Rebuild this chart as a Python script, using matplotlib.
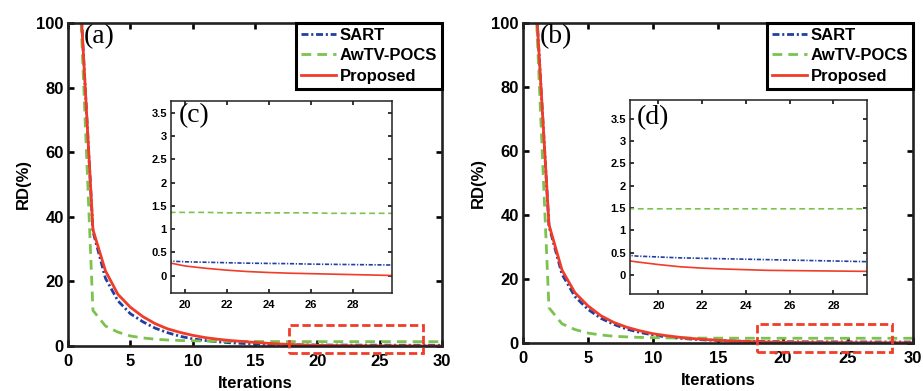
import numpy as np
import matplotlib.pyplot as plt
from matplotlib.patches import Rectangle

# iterations and RD(%) values
iters = np.arange(1, 31)

sart_a = [107, 35.5, 21, 14, 10, 7.5, 5.5, 4.1, 3.0, 2.2, 1.7, 1.3, 1.0, 0.8, 0.62,
          0.5, 0.42, 0.36, 0.32, 0.30, 0.29, 0.28, 0.27, 0.265, 0.26, 0.25, 0.245,
          0.24, 0.235, 0.23]
awtv_a = [105, 11, 6.2, 4.3, 3.1, 2.5, 2.1, 1.85, 1.7, 1.6, 1.52, 1.47, 1.43, 1.41,
          1.39, 1.38, 1.37, 1.37, 1.36, 1.36, 1.36, 1.35, 1.35, 1.35, 1.35, 1.35,
          1.34, 1.34, 1.34, 1.34]
prop_a = [107, 36, 23.3, 16, 12, 9.1, 6.9, 5.3, 4.2, 3.3, 2.6, 2.1, 1.7, 1.4, 1.1,
          0.85, 0.62, 0.45, 0.3, 0.21, 0.16, 0.12, 0.09, 0.07, 0.055, 0.045, 0.035,
          0.025, 0.015, 0.005]

sart_b = [107, 36.5, 21.5, 14.5, 10.5, 7.7, 5.8, 4.3, 3.3, 2.5, 1.9, 1.5, 1.2, 0.95,
          0.8, 0.65, 0.55, 0.47, 0.42, 0.4, 0.38, 0.37, 0.36, 0.35, 0.34, 0.33,
          0.32, 0.31, 0.30, 0.29]
awtv_b = [105, 11, 6, 4.2, 3.1, 2.5, 2.1, 1.9, 1.75, 1.65, 1.6, 1.56, 1.54, 1.52,
          1.51, 1.5, 1.49, 1.49, 1.48, 1.48, 1.48, 1.48, 1.48, 1.48, 1.48, 1.48,
          1.48, 1.48, 1.48, 1.48]
prop_b = [107, 37, 22.8, 15.7, 11.6, 8.5, 6.4, 4.9, 3.8, 2.9, 2.3, 1.8, 1.4, 1.1,
          0.85, 0.65, 0.5, 0.36, 0.29, 0.23, 0.18, 0.15, 0.13, 0.115, 0.1, 0.095,
          0.09, 0.085, 0.08, 0.075]

labels = ["SART", "AwTV-POCS", "Proposed"]
main_xticks = [0, 5, 10, 15, 20, 25, 30]
main_yticks = [0, 20, 40, 60, 80, 100]
inset_xticks = [20, 22, 24, 26, 28]
inset_yticks = [0, 0.5, 1, 1.5, 2, 2.5, 3, 3.5]

RED = "#f03c28"
BLUE = "#1f3fa3"
GREEN = "#7cc24e"
SANS = "Liberation Sans"
SERIF = "Liberation Serif"


def draw_lines(ax, sart, awtv, prop, lw):
    ax.plot(iters, sart, color=BLUE, lw=lw, dashes=(2.5, 1, 0.75, 1), label=labels[0])
    ax.plot(iters, awtv, color=GREEN, lw=lw, dashes=(3.5, 2.2), label=labels[1])
    ax.plot(iters, prop, color=RED, lw=lw, label=labels[2])


def style(ax, fs, spine_w, tick_len, xpad):
    for s in ax.spines.values():
        s.set_linewidth(spine_w)
        s.set_color("#222222")
    ax.tick_params(direction="in", top=True, right=True, length=tick_len,
                   width=spine_w, labelsize=fs, pad=3)
    ax.tick_params(axis="x", pad=xpad)
    for t in ax.get_xticklabels() + ax.get_yticklabels():
        t.set_fontweight("bold")
        t.set_fontfamily(SANS)


fig = plt.figure(figsize=(9.23, 3.91), dpi=100)

panels = [
    dict(main=[0.0737, 0.1151, 0.4052, 0.8261], inset=[0.1853, 0.2506, 0.2394, 0.4911],
         data=(sart_a, awtv_a, prop_a), ixlim=(19.33, 29.86), iylim=(-0.37, 3.75),
         rect=(17.7, -2.1, 10.8, 8.6), tag="(a)", itag="(c)", itag_x=0.036, itag_y=0.925),
    dict(main=[0.5666, 0.1228, 0.4226, 0.8184], inset=[0.6826, 0.2481, 0.2568, 0.4962],
         data=(sart_b, awtv_b, prop_b), ixlim=(18.7, 29.54), iylim=(-0.43, 3.92),
         rect=(17.97, -2.7, 10.43, 8.6), tag="(b)", itag="(d)", itag_x=0.03, itag_y=0.91),
]

for p in panels:
    ax = fig.add_axes(p["main"])
    draw_lines(ax, *p["data"], lw=2.0)
    ax.set_xlim(0, 30)
    ax.set_ylim(0, 100)
    ax.set_xticks(main_xticks)
    ax.set_yticks(main_yticks)
    style(ax, 12, 1.9, 4, 6)
    ax.set_xlabel("Iterations", fontsize=12, fontweight="bold", family=SANS, labelpad=5)
    ax.set_ylabel("RD(%)", fontsize=12, fontweight="bold", family=SANS, labelpad=4)
    ax.text(0.043, 0.957, p["tag"], transform=ax.transAxes, family=SERIF,
            fontsize=20, va="center", ha="left")
    x0, y0, w, h = p["rect"]
    ax.add_patch(Rectangle((x0, y0), w, h, fill=False, edgecolor=RED, lw=2,
                           ls=(0, (3, 1.3)), clip_on=False, zorder=5))
    leg = ax.legend(loc="upper right", borderaxespad=0, fancybox=False,
                    framealpha=1, edgecolor="black", handlelength=2.1,
                    handletextpad=0.2, labelspacing=0.32, borderpad=0.3,
                    prop=dict(family=SANS, weight="bold", size=12))
    leg.get_frame().set_linewidth(2.2)

    ins = fig.add_axes(p["inset"])
    draw_lines(ins, *p["data"], lw=1.2)
    ins.set_xlim(*p["ixlim"])
    ins.set_ylim(*p["iylim"])
    ins.set_xticks(inset_xticks)
    ins.set_yticks(inset_yticks)
    ins.set_yticklabels(["0", "0.5", "1", "1.5", "2", "2.5", "3", "3.5"])
    style(ins, 8, 1.1, 3, 5)
    ins.text(p["itag_x"], p["itag_y"], p["itag"], transform=ins.transAxes,
             family=SERIF, fontsize=20, va="center", ha="left")

fig.savefig("out.png", dpi=100)
